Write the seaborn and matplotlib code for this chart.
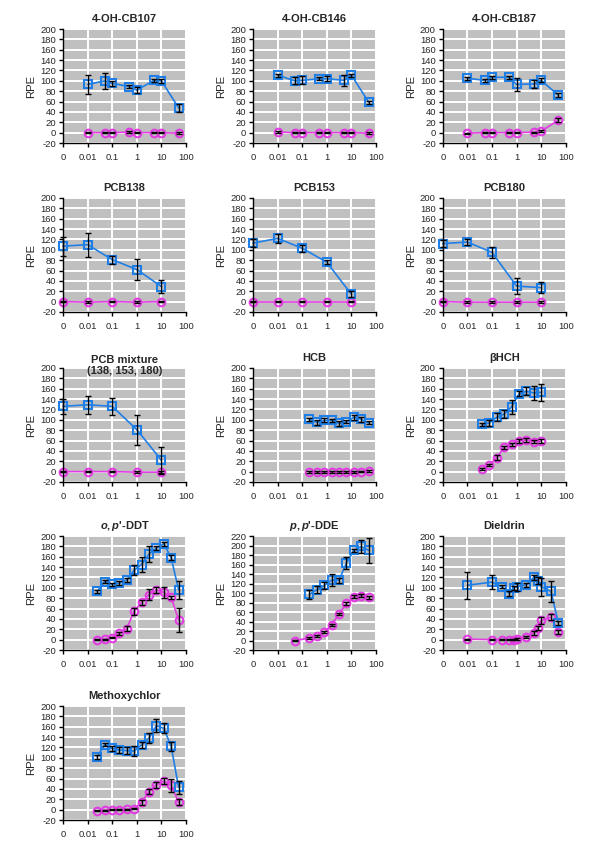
import numpy as np
import matplotlib
matplotlib.use("Agg")
import matplotlib.pyplot as plt
from matplotlib.ticker import NullLocator
import seaborn as sns

# dose (0 = control, drawn at the "0" position), blue = ER agonism, magenta = other response
titles = ["4-OH-CB107", "4-OH-CB146", "4-OH-CB187",
          "PCB138", "PCB153", "PCB180",
          "PCB mixture\n(138, 153, 180)", "HCB", "\u03b2HCH",
          r"$o,p$'-DDT", r"$p,p$'-DDE", "Dieldrin",
          "Methoxychlor"]

x_oh = [0.01, 0.05, 0.1, 0.5, 1, 5, 10, 50]
x_pcb = [0, 0.01, 0.1, 1, 10]
x_hcb = [0.195, 0.39, 0.78, 1.56, 3.125, 6.25, 12.5, 25, 50]
x_bhch = [0.039, 0.078, 0.156, 0.3125, 0.625, 1.25, 2.5, 5, 10]
x_ddt = [0.0244, 0.049, 0.098, 0.195, 0.39, 0.78, 1.56, 3.125, 6.25, 12.5, 25, 50]
x_dde_b = [0.195, 0.39, 0.78, 1.56, 3.125, 6.25, 12.5, 25, 50]
x_dde_m = [0.049, 0.195, 0.39, 0.78, 1.56, 3.125, 6.25, 12.5, 25, 50]
x_diel = [0.01, 0.1, 0.25, 0.5, 0.75, 1, 2.5, 5, 7.5, 10, 25, 50]

cb107_b = [93, 100, 95, 89, 82, 101, 100, 48]
cb107_be = [18, 15, 5, 3, 6, 3, 4, 8]
cb107_m = [0, 0, 0, 1, 0, 0, 0, -1]
cb146_b = [111, 100, 101, 104, 104, 101, 111, 59]
cb146_be = [3, 7, 8, 3, 5, 10, 3, 3]
cb146_m = [1, 0, 0, 0, 0, 0, 0, -1]
cb187_b = [105, 101, 107, 107, 93, 94, 101, 72]
cb187_be = [3, 3, 3, 3, 13, 7, 4, 4]
cb187_m = [-1, 0, 0, 0, 0, 1, 3, 24]
cb187_me = [1, 1, 1, 1, 1, 1, 2, 4]

pcb138_b = [107, 110, 81, 62, 29]
pcb138_be = [18, 23, 8, 21, 12]
pcb138_m = [0, -1, 0, -1, 0]
pcb153_b = [113, 122, 103, 76, 14]
pcb153_be = [7, 9, 7, 4, 6]
pcb153_m = [0, 0, 0, 0, 0]
pcb180_b = [112, 115, 95, 30, 27]
pcb180_be = [7, 6, 11, 15, 11]
pcb180_m = [0, -1, -1, -1, -1]
mix_b = [126, 129, 126, 81, 22]
mix_be = [14, 17, 16, 29, 26]
mix_m = [0, 0, 0, -1, -1]

hcb_b = [101, 95, 99, 99, 93, 96, 105, 101, 94]
hcb_be = [3, 5, 4, 3, 4, 3, 5, 5, 3]
hcb_m = [-1, -1, -1, -1, -1, -1, -1, 0, 1]
bhch_b = [91, 94, 105, 111, 125, 150, 155, 152, 153]
bhch_be = [3, 5, 8, 7, 13, 5, 8, 14, 16]
bhch_m = [5, 13, 27, 47, 53, 59, 61, 58, 59]
bhch_me = [2, 2, 5, 3, 3, 3, 3, 3, 3]

ddt_b = [93, 112, 107, 109, 115, 134, 145, 165, 177, 185, 158, 96]
ddt_be = [3, 3, 3, 4, 4, 10, 14, 15, 4, 4, 5, 17]
ddt_m = [0, 1, 4, 12, 21, 55, 72, 87, 96, 91, 82, 38]
ddt_me = [1, 1, 1, 3, 5, 7, 5, 10, 6, 10, 3, 23]
dde_b = [97, 107, 116, 127, 127, 163, 190, 198, 190]
dde_be = [10, 7, 8, 12, 5, 12, 3, 14, 26]
dde_m = [0, 5, 10, 17, 33, 56, 78, 92, 94, 91]
dde_me = [1, 2, 2, 2, 2, 2, 3, 3, 3, 3]
diel_b = [105, 111, 102, 89, 100, 102, 106, 120, 114, 102, 93, 32]
diel_be = [26, 13, 3, 5, 4, 8, 4, 4, 6, 17, 20, 4]
diel_m = [1, 0, 0, 0, 0, 2, 5, 13, 23, 37, 43, 15]
diel_me = [1, 1, 1, 1, 1, 2, 2, 4, 4, 6, 6, 4]
metx_b = [102, 125, 118, 115, 114, 113, 125, 138, 162, 157, 122, 43]
metx_be = [4, 3, 4, 6, 7, 9, 6, 10, 12, 10, 8, 12]
metx_m = [-2, -1, 0, 0, 1, 2, 14, 35, 48, 55, 47, 14]
metx_me = [1, 1, 1, 1, 1, 1, 5, 5, 6, 6, 12, 6]

small = lambda v: [1.5] * len(v)

panels = [
    (x_oh, cb107_b, cb107_be, x_oh, cb107_m, small(cb107_m)),
    (x_oh, cb146_b, cb146_be, x_oh, cb146_m, small(cb146_m)),
    (x_oh, cb187_b, cb187_be, x_oh, cb187_m, cb187_me),
    (x_pcb, pcb138_b, pcb138_be, x_pcb, pcb138_m, small(pcb138_m)),
    (x_pcb, pcb153_b, pcb153_be, x_pcb, pcb153_m, small(pcb153_m)),
    (x_pcb, pcb180_b, pcb180_be, x_pcb, pcb180_m, small(pcb180_m)),
    (x_pcb, mix_b, mix_be, x_pcb, mix_m, small(mix_m)),
    (x_hcb, hcb_b, hcb_be, x_hcb, hcb_m, small(hcb_m)),
    (x_bhch, bhch_b, bhch_be, x_bhch, bhch_m, bhch_me),
    (x_ddt, ddt_b, ddt_be, x_ddt, ddt_m, ddt_me),
    (x_dde_b, dde_b, dde_be, x_dde_m, dde_m, dde_me),
    (x_diel, diel_b, diel_be, x_diel, diel_m, diel_me),
    (x_ddt, metx_b, metx_be, x_ddt, metx_m, metx_me),
]

xticks = [1e-3, 0.01, 0.1, 1, 10, 100]
xticklabels = ["0", "0.01", "0.1", "1", "10", "100"]

blue = "#1f7fe6"
magenta = "#e23ce2"

sns.set_theme(style="white", rc={"axes.facecolor": "#c0c0c0"})
plt.rcParams["font.family"] = ["Liberation Sans", "DejaVu Sans"]
plt.rcParams["axes.unicode_minus"] = False
plt.rcParams["mathtext.fontset"] = "custom"
plt.rcParams["mathtext.it"] = "Liberation Sans:bold:italic"
plt.rcParams["mathtext.rm"] = "Liberation Sans:bold"

fig = plt.figure(figsize=(6, 8.59), dpi=100)
lefts = [0.105, 0.4217, 0.738]
bottoms = [0.8335, 0.6368, 0.4389, 0.2433, 0.0454]
w, h = 0.205, 0.1327

for i, (xb, yb, eb, xm, ym, em) in enumerate(panels):
    ax = fig.add_axes([lefts[i % 3], bottoms[i // 3], w, h])
    xb = np.where(np.array(xb) == 0, 1e-3, xb)
    xm = np.where(np.array(xm) == 0, 1e-3, xm)

    sns.lineplot(x=xm, y=ym, ax=ax, color=magenta, sort=False, errorbar=None,
                 marker="o", markersize=5.5, markerfacecolor="none",
                 markeredgecolor=magenta, markeredgewidth=1.5, linewidth=1.2,
                 clip_on=False, zorder=3)
    sns.lineplot(x=xb, y=yb, ax=ax, color=blue, sort=False, errorbar=None,
                 marker="s", markersize=6, markerfacecolor="none",
                 markeredgecolor=blue, markeredgewidth=1.5, linewidth=1.2,
                 clip_on=False, zorder=3)
    for xs, ys, es in [(xm, ym, em), (xb, yb, eb)]:
        eb_art = ax.errorbar(xs, ys, yerr=es, fmt="none", ecolor="black",
                             elinewidth=1, capsize=2.5, capthick=1, zorder=5)
        for a in eb_art.lines[1] + eb_art.lines[2]:
            a.set_clip_on(False)

    ax.set_xscale("log")
    ax.set_xlim(1e-3, 100)
    ax.set_xticks(xticks)
    ax.set_xticklabels(xticklabels)
    ax.xaxis.set_minor_locator(NullLocator())
    ytop = 220 if i == 10 else 200
    ax.set_ylim(-20, ytop)
    ax.set_yticks(np.arange(-20, ytop + 1, 20))
    ax.grid(True, color="white", linewidth=1.4)
    ax.set_axisbelow(True)
    for s in ["top", "right"]:
        ax.spines[s].set_visible(False)
    for s in ["left", "bottom"]:
        ax.spines[s].set_color("black")
        ax.spines[s].set_linewidth(1)
        ax.spines[s].set_zorder(6)
    ax.tick_params(axis="both", labelsize=6.8, length=3, width=1, color="black",
                   pad=2, bottom=True, left=True)
    ax.tick_params(axis="x", pad=4)
    ax.set_ylabel("RPE", fontsize=8.2, labelpad=3)
    ax.set_xlabel("")
    if i == 6:
        ax.set_title(titles[i], fontsize=8, fontweight="bold", y=0.875,
                     linespacing=1.15)
    else:
        ax.set_title(titles[i], fontsize=8, fontweight="bold", pad=5)

fig.savefig("out.png", dpi=100, facecolor="white")
